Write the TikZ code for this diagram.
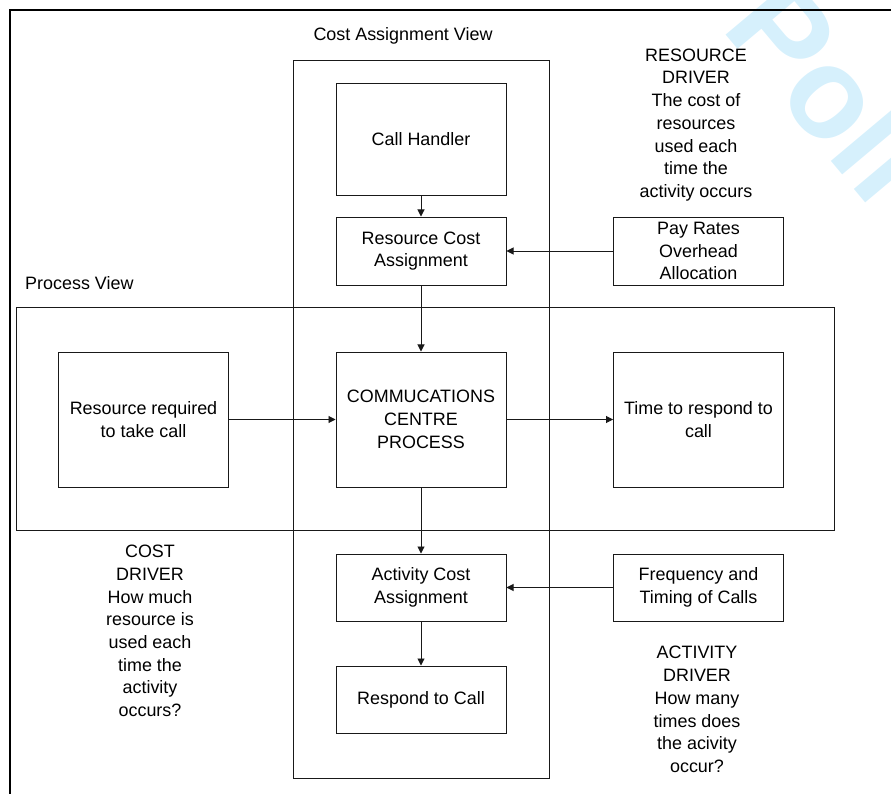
\documentclass[tikz,border=0pt]{standalone}
\usepackage{fontspec}
\setmainfont{Liberation Sans}
\usetikzlibrary{arrows.meta}
\definecolor{qqqqqq}{rgb}{0.1,0.1,0.1}
\definecolor{ccefff}{rgb}{0.84,0.94,0.99}

\begin{document}
\begin{tikzpicture}[line cap=rect,line join=miter,x=0.03cm,y=-0.03cm,
  txt/.style={font=\fontsize{15.3}{19.4}\selectfont,align=center,inner sep=0pt},
  box/.style={txt,draw=qqqqqq,line width=0.8pt,minimum width=5.1cm},
  arr/.style={draw=qqqqqq,line width=0.8pt,-{Triangle[length=6pt,width=6pt]}}]
\useasboundingbox (0,0) rectangle (891,794);
\clip (0,0) rectangle (891,794);
\node[text=ccefff,font=\fontsize{110}{110}\selectfont\bfseries,rotate=-50,anchor=base,inner sep=0pt] (wmark) at (796,119) {Poli};
\draw [line width=1.7pt] (10,794) -- (10,10) -- (891,10);
\draw [color=qqqqqq,line width=0.8pt] (293,60) rectangle (549,778);
\draw [color=qqqqqq,line width=0.8pt] (16,307) rectangle (834,530);
\node[txt] (cav) at (403,36) {Cost Assignment View};
\node[txt,anchor=west] (pv) at (25,283) {Process View};
\node[box,minimum height=3.36cm] (handler) at (421,139) {Call Handler};
\node[box,minimum height=2.04cm] (rescost) at (421,251) {Resource Cost\\Assignment};
\node[box,minimum height=2.04cm] (pay) at (698.5,251) {Pay Rates\\Overhead\\Allocation};
\node[box,minimum height=4.05cm] (resreq) at (143.5,419.5) {Resource required\\to take call};
\node[box,minimum height=4.05cm] (comm) at (421,419.5) {COMMUCATIONS\\CENTRE\\PROCESS};
\node[box,minimum height=4.05cm] (time) at (698.5,419.5) {Time to respond to\\call};
\node[box,minimum height=2.01cm] (actcost) at (421,587.5) {Activity Cost\\Assignment};
\node[box,minimum height=2.01cm] (freq) at (698.5,587.5) {Frequency and\\Timing of Calls};
\node[box,minimum height=2.01cm] (respond) at (421,699.5) {Respond to Call};
\node[txt] (resdrv) at (696,125) {RESOURCE\\DRIVER\\The cost of\\resources\\used each\\time the\\activity occurs};
\node[txt] (costdrv) at (150,631) {COST\\DRIVER\\How much\\resource is\\used each\\time the\\activity\\occurs?};
\node[txt] (actdrv) at (697,709.5) {ACTIVITY\\DRIVER\\How many\\times does\\the acivity\\occur?};
\draw [arr] (handler) -- (rescost);
\draw [arr] (pay) -- (rescost);
\draw [arr] (rescost) -- (comm);
\draw [arr] (resreq) -- (comm);
\draw [arr] (comm) -- (time);
\draw [arr] (comm) -- (actcost);
\draw [arr] (freq) -- (actcost);
\draw [arr] (actcost) -- (respond);
\end{tikzpicture}
\end{document}
